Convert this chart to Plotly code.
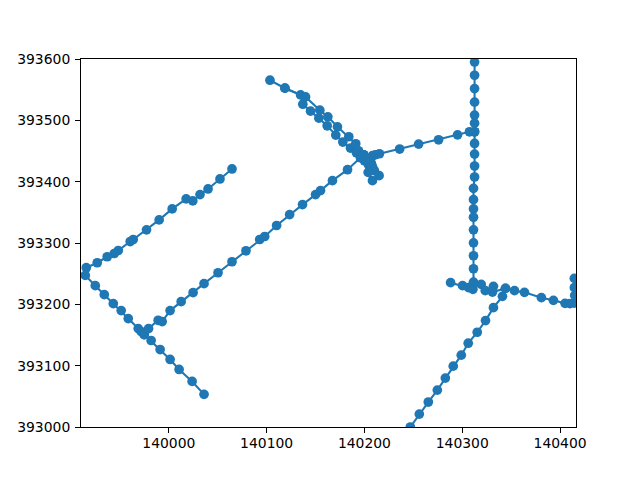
import plotly.graph_objects as go

# Westerly road: NE end, down to the left edge, then SE end
road_a_x = [140064.6,140052.3,140040.1,140031.9,140024.5,140017.7,140003.4,139990.1,139977.2,139963.6,139960.5,139948.3,139944.2,139937.0,139926.8,139915.6,139914.6,139924.8,139934.0,139943.2,139951.3,139958.5,139968.7,139971.7,139974.8,139981.9,139991.1,140001.3,140010.5,140023.8,140036.0]
road_a_y = [393420.7,393404.4,393388.1,393378.9,393368.6,393371.9,393355.6,393337.7,393321.5,393305.7,393302.4,393287.8,393282.9,393277.6,393267.8,393259.7,393247.2,393230.4,393215.8,393201.1,393189.8,393176.7,393160.5,393155.6,393150.7,393141.0,393126.3,393110.1,393093.8,393074.3,393053.2]

# Long diagonal into the central junction
road_b_x = [139974.8,139979.3,139989.1,139993.2,140001.3,140012.6,140024.8,140036.0,140050.3,140064.6,140078.9,140092.9,140098.0,140110.2,140123.5,140136.7,140150.0,140155.1,140167.3,140182.7,140195.9,140199.0]
road_b_y = [393150.7,393160.5,393174.0,393171.9,393189.8,393204.4,393219.0,393233.7,393251.5,393269.4,393287.3,393305.7,393310.6,393328.5,393346.3,393362.6,393378.9,393385.4,393401.6,393419.5,393439.0,393443.9]

# Two parallel carriageways from the north-west
road_c_x = [140103.4,140118.7,140134.7,140137.0,140144.9,140153.4,140161.9,140170.7,140177.9,140185.7,140191.8,140195.9,140200.0,140204.1,140209.2]
road_c_y = [393565.4,393552.4,393541.5,393526.3,393515.0,393503.6,393491.1,393475.9,393464.6,393454.8,393447.2,393442.3,393434.1,393427.6,393419.5]
road_d_x = [140118.7,140139.8,140154.4,140162.6,140172.4,140184.0,140191.1,140193.9,140196.9,140202.0,140207.0]
road_d_y = [393552.4,393538.2,393516.6,393505.7,393489.4,393473.2,393461.8,393450.4,393442.3,393437.4,393430.0]

# Junction to the vertical road
road_e_x = [140199.0,140208.2,140211.2,140215.3,140236.0,140255.4,140275.8,140295.2,140307.4,140312.6]
road_e_y = [393443.9,393442.3,393443.9,393445.5,393453.2,393461.3,393468.3,393476.4,393481.3,393481.3]

# Short spur south of the junction
road_f_x = [140199.0,140204.1,140208.2,140210.2,140215.0,140208.2,140203.8]
road_f_y = [393443.9,393434.1,393424.4,393417.9,393409.8,393401.6,393415.1]

# Vertical road
road_g_x = [140312.6,140312.6,140312.6,140312.6,140312.6,140312.6,140312.6,140312.6,140312.6,140312.6,140312.6,140311.5,140311.5,140311.5,140311.5,140311.5,140311.5,140311.5,140311.5,140311.5]
road_g_y = [393595.1,393573.5,393551.7,393529.6,393508.5,393495.4,393481.3,393462.3,393445.0,393425.5,393407.6,393389.1,393370.7,393355.6,393341.9,393321.5,393300.3,393279.2,393258.0,393236.3]

# East-west road on the right
road_h_x = [140288.1,140300.3,140306.4,140310.9,140311.5,140319.4,140323.5,140331.9,140330.9,140344.2,140353.4,140363.6,140380.9,140393.2,140405.1,140410.2,140414.6,140415.0,140414.6,140414.6]
road_h_y = [393235.3,393230.4,393227.2,393224.4,393234.6,393232.5,393222.3,393229.3,393220.0,393226.0,393222.3,393219.5,393210.9,393206.5,393201.6,393201.1,393202.1,393214.6,393227.2,393242.3]

# Diagonal rising from the bottom edge
road_i_x = [140246.9,140256.1,140265.3,140274.5,140282.7,140290.8,140299.0,140306.1,140315.3,140323.8,140331.9,140341.1,140344.2]
road_i_y = [393000.0,393021.1,393040.7,393060.2,393079.7,393099.2,393117.1,393136.6,393154.5,393173.5,393194.6,393213.0,393226.0]

x_ticks = [140000, 140100, 140200, 140300, 140400]
y_ticks = [393000, 393100, 393200, 393300, 393400, 393500, 393600]
x_range = [139910.2, 140416.3]
y_range = [393000, 393600]

series = [(road_a_x, road_a_y), (road_b_x, road_b_y), (road_c_x, road_c_y),
          (road_d_x, road_d_y), (road_e_x, road_e_y), (road_f_x, road_f_y),
          (road_g_x, road_g_y), (road_h_x, road_h_y), (road_i_x, road_i_y)]

fig = go.Figure()
for xs, ys in series:
    fig.add_trace(go.Scatter(x=xs, y=ys, mode="lines+markers",
                             line=dict(color="#1f77b4", width=2.08),
                             marker=dict(color="#1f77b4", size=9.7, line=dict(width=0)),
                             showlegend=False, hoverinfo="skip"))

axis = dict(showgrid=False, zeroline=False, showline=True, mirror=True,
            linecolor="black", linewidth=1, ticks="outside", ticklen=5,
            tickwidth=1, tickcolor="black", tickformat="d",
            tickfont=dict(family="DejaVu Sans", size=13.9, color="black"))
fig.update_layout(width=640, height=480, paper_bgcolor="white", plot_bgcolor="white",
                  margin=dict(l=80.5, r=63.5, t=58.5, b=52.5, autoexpand=False), showlegend=False,
                  xaxis=dict(range=x_range, tickvals=x_ticks, ticklabelstandoff=-2, **axis),
                  yaxis=dict(range=y_range, tickvals=y_ticks, ticklabelstandoff=2, **axis))
fig.write_html("out.html", config={"displayModeBar": False},
               post_script="document.body.style.margin='0';")
